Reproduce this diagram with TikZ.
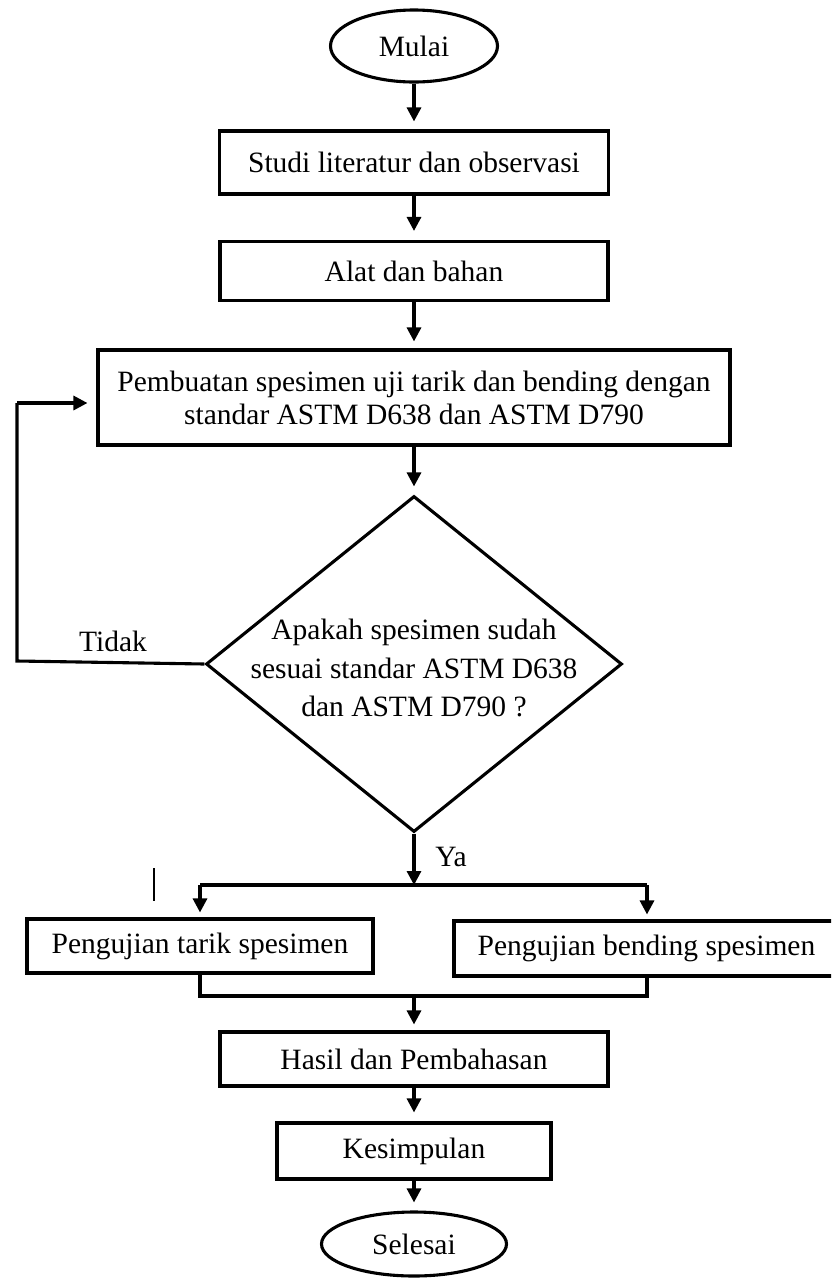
\documentclass[tikz,border=0pt]{standalone}
\usepackage{fontspec}
\setmainfont{Liberation Serif}
\usetikzlibrary{shapes.geometric,arrows.meta}
\begin{document}
\begin{tikzpicture}[x=1pt,y=-1pt,
  line width=3.1pt,
  txt/.style={font=\fontsize{29.5}{33}\selectfont},
  box/.style={draw, rectangle, inner sep=0pt, txt, align=center},
  term/.style={draw, ellipse, inner sep=0pt, txt},
  arr/.style={-{Triangle[length=14pt,width=14pt]}},
  lbl/.style={txt, inner sep=0pt}]
\clip (0,0) rectangle (831,1278);
\fill[white] (0,0) rectangle (831,1278);
% nodes
\node[term, minimum width=167pt, minimum height=72pt] (mulai) at (414,46) {Mulai};
\node[box, minimum width=389pt, minimum height=63pt] (studi) at (414,162.5) {Studi literatur dan observasi};
\node[box, minimum width=388pt, minimum height=59pt] (alat) at (414,271) {Alat dan bahan};
\node[box, minimum width=632pt, minimum height=95pt] (pemb) at (414,397.5) {Pembuatan spesimen uji tarik dan bending dengan\\standar ASTM D638 dan ASTM D790};
\node[draw, diamond, minimum width=416pt, minimum height=336pt, inner sep=0pt, aspect=1.238] (dia) at (414,664) {};
\node[txt, align=center, inner sep=0pt, font=\fontsize{29.5}{38.5}\selectfont] (diatext) at (414,668) {Apakah spesimen sudah\\sesuai standar ASTM D638\\dan ASTM D790 ?};
\node[lbl] (tidak) at (113,641) {Tidak};
\node[lbl] (ya) at (451,857) {Ya};
\node[box, minimum width=346pt, minimum height=54pt] (tarik) at (200,946) {Pengujian tarik spesimen};
\node[box, minimum width=385pt, minimum height=55pt] (bending) at (646.5,948.5) {Pengujian bending spesimen};
\node[box, minimum width=388pt, minimum height=54pt] (hasil) at (414,1059) {Hasil dan Pembahasan};
\node[box, minimum width=274pt, minimum height=56pt] (kesim) at (414,1151) {Kesimpulan};
\node[term, minimum width=185pt, minimum height=64pt] (selesai) at (414,1244) {Selesai};
% coordinates
\coordinate (c1) at (17,661);
\coordinate (c2) at (17,403);
\coordinate (split) at (414,885);
\coordinate (bl) at (200,885);
\coordinate (br) at (647,885);
\coordinate (ml) at (200,996);
\coordinate (mr) at (647,996);
\coordinate (mm) at (414,996);
% connectors
\draw[arr, shorten >=8pt] (mulai.south) -- (studi.north);
\draw[arr, shorten >=9pt] (studi.south) -- (alat.north);
\draw[arr, shorten >=7pt] (alat.south) -- (pemb.north);
\draw[arr, shorten >=8pt] (pemb.south) -- (dia.north);
\draw (dia.west) -- (c1) -- (c2);
\draw[arr, shorten >=9pt] (c2) -- (pemb.west |- c2);
\draw[arr] (dia.south) -- (split);
\draw (bl) -- (br);
\draw[arr, shorten >=5pt] (bl) -- (bl |- tarik.north);
\draw[arr, shorten >=5pt] (br) -- (br |- bending.north);
\draw (tarik.south) -- (ml) -- (mr) -- (mr |- bending.south);
\draw[arr, shorten >=6pt] (mm) -- (hasil.north);
\draw[arr, shorten >=9pt] (hasil.south) -- (kesim.north);
\draw[arr, shorten >=8pt] (kesim.south) -- (selesai.north);
% stray mark
\draw[line width=1.4pt] (154,868) -- (154,901);
\end{tikzpicture}
\end{document}
